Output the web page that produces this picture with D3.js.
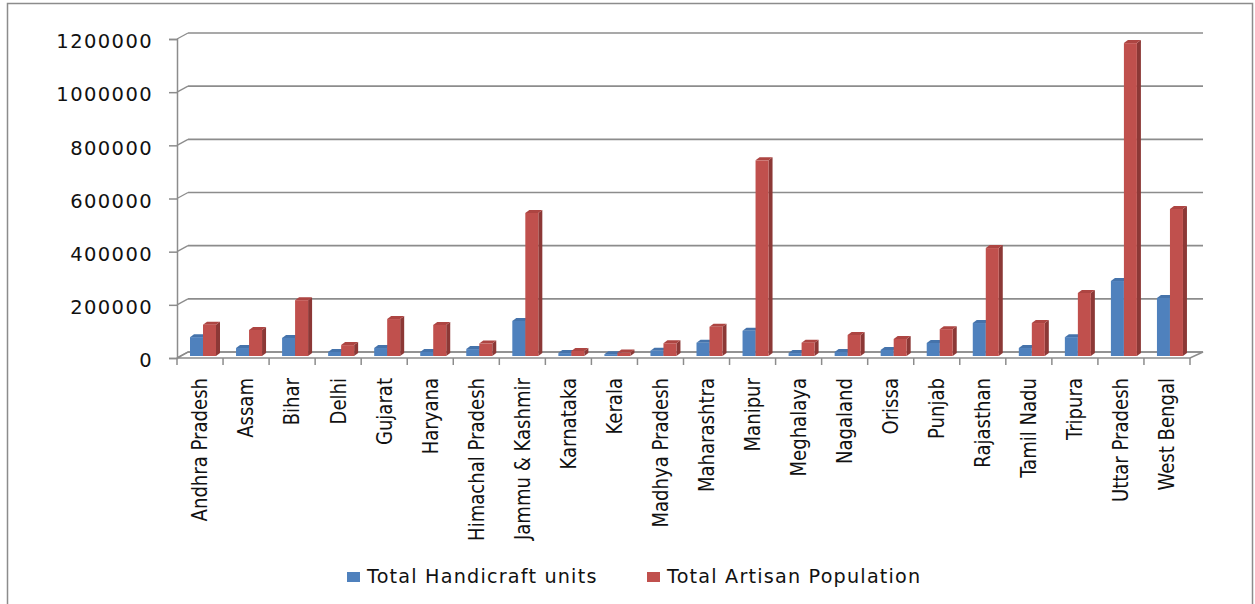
<!DOCTYPE html>
<html>
<head>
<meta charset="utf-8">
<script src="https://cdn.jsdelivr.net/npm/d3@7"></script>
<style>
  body { margin: 0; background: #fff; }
  svg { display: block; }
</style>
</head>
<body>
<svg id="chart" width="1255" height="604"></svg>
<script>
var states = ['Andhra Pradesh', 'Assam', 'Bihar', 'Delhi', 'Gujarat', 'Haryana',
  'Himachal Pradesh', 'Jammu & Kashmir', 'Karnataka', 'Kerala', 'Madhya Pradesh',
  'Maharashtra', 'Manipur', 'Meghalaya', 'Nagaland', 'Orissa', 'Punjab',
  'Rajasthan', 'Tamil Nadu', 'Tripura', 'Uttar Pradesh', 'West Bengal'];

var handicraftUnits = [71000, 30000, 68000, 15000, 30000, 15000, 26000, 132000,
  11000, 7000, 20000, 50000, 95000, 11000, 15000, 23000, 49000, 124000, 30000,
  71000, 282000, 218000];

var artisanPopulation = [118000, 98000, 210000, 41000, 139000, 117000, 47000,
  538000, 19000, 13000, 48000, 110000, 736000, 50000, 79000, 64000, 101000,
  406000, 124000, 237000, 1177000, 553000];

var yTicks = [0, 200000, 400000, 600000, 800000, 1000000, 1200000];
var seriesNames = ['Total Handicraft units', 'Total Artisan Population'];

var colors = {
  front: ['#4f81bd', '#c0504d'],
  side: ['#385d8a', '#8c3836'],
  top: ['#4573ab', '#ad4542']
};

var svg = d3.select('#chart');

// outer frame
svg.append('rect')
  .attr('x', 7.5).attr('y', 3.5)
  .attr('width', 1245).attr('height', 640)
  .attr('fill', 'none').attr('stroke', '#8c8c8c').attr('stroke-width', 1.5);

var left = 177, right = 1190;
var depthX = 11, depthY = -6;

var x = d3.scaleBand().domain(states).range([left, right]);
var yAxisScale = d3.scaleLinear().domain([0, 1200000]).range([358, 39]);
var yBar = d3.scaleLinear().domain([0, 1200000]).range([356, 37]);

// floor
svg.append('path')
  .attr('d', 'M' + left + ',358 L' + right + ',358 L' + (right + depthX + 2) + ',' + (358 + depthY) +
    ' L' + (left + depthX) + ',' + (358 + depthY) + ' Z')
  .attr('fill', 'none').attr('stroke', '#8c8c8c').attr('stroke-width', 1.5);

// back wall gridlines
svg.append('g').selectAll('line')
  .data(yTicks)
  .join('line')
  .attr('x1', left + depthX).attr('x2', right + depthX + 2)
  .attr('y1', function (d) { return yAxisScale(d) + depthY; })
  .attr('y2', function (d) { return yAxisScale(d) + depthY; })
  .attr('stroke', '#8c8c8c').attr('stroke-width', 1.6);

// diagonals from front axis to back wall
svg.append('g').selectAll('line')
  .data(yTicks)
  .join('line')
  .attr('x1', left).attr('x2', left + depthX)
  .attr('y1', function (d) { return yAxisScale(d); })
  .attr('y2', function (d) { return yAxisScale(d) + depthY; })
  .attr('stroke', '#8c8c8c').attr('stroke-width', 1.3);

// y axis
var yAxis = d3.axisLeft(yAxisScale).tickValues(yTicks).tickSize(8).tickPadding(16)
  .tickFormat(d3.format('d'));
var gy = svg.append('g').attr('transform', 'translate(' + left + ',0)').call(yAxis);
gy.select('.domain').attr('stroke', '#8c8c8c').attr('stroke-width', 1.5);
gy.selectAll('.tick line').attr('stroke', '#8c8c8c').attr('stroke-width', 1.5);
gy.selectAll('.tick text')
  .attr('font-family', 'DejaVu Sans, Verdana, sans-serif')
  .attr('font-size', 19.5).attr('letter-spacing', 1.4).attr('fill', '#111')
  .attr('dy', '0.45em');

// x axis
var xAxis = d3.axisBottom(x).tickSize(0).tickFormat('');
var gx = svg.append('g').attr('transform', 'translate(0,358)').call(xAxis);
gx.select('.domain').remove();
var boundaries = states.map(function (s) { return x(s); }).concat([right]);
gx.selectAll('line.bound')
  .data(boundaries)
  .join('line')
  .attr('class', 'bound')
  .attr('x1', function (d) { return d; }).attr('x2', function (d) { return d; })
  .attr('y1', 0).attr('y2', 7)
  .attr('stroke', '#8c8c8c').attr('stroke-width', 1.5);

gx.selectAll('text.cat')
  .data(states)
  .join('text')
  .attr('class', 'cat')
  .attr('transform', function (d) {
    return 'translate(' + (x(d) + x.bandwidth() / 2) + ',20) rotate(-90) scale(0.98,1)';
  })
  .attr('text-anchor', 'end')
  .attr('dy', '0.36em')
  .attr('font-family', 'Liberation Sans Narrow, DejaVu Sans Condensed, sans-serif')
  .attr('font-size', 20.5)
  .attr('fill', '#111')
  .text(function (d) { return d; });

// 3d bars
var barW = 13, sideW = 4, topH = 3;
var rows = [];
states.forEach(function (s, i) {
  rows.push({ state: s, series: 0, value: handicraftUnits[i] });
  rows.push({ state: s, series: 1, value: artisanPopulation[i] });
});

var bars = svg.append('g').selectAll('g')
  .data(rows)
  .join('g');

function barX(d) { return x(d.state) + 13 + d.series * barW; }

bars.append('path')
  .attr('d', function (d) {
    var x1 = barX(d) + barW, t = yBar(d.value), b = yBar(0);
    return 'M' + x1 + ',' + t + ' L' + (x1 + sideW) + ',' + (t - topH) +
      ' L' + (x1 + sideW) + ',' + (b - topH) + ' L' + x1 + ',' + b + ' Z';
  })
  .attr('fill', function (d) { return colors.side[d.series]; });

bars.append('path')
  .attr('d', function (d) {
    var x0 = barX(d), t = yBar(d.value);
    return 'M' + x0 + ',' + t + ' L' + (x0 + sideW) + ',' + (t - topH) +
      ' L' + (x0 + barW + sideW) + ',' + (t - topH) + ' L' + (x0 + barW) + ',' + t + ' Z';
  })
  .attr('fill', function (d) { return colors.top[d.series]; });

bars.append('rect')
  .attr('x', barX)
  .attr('y', function (d) { return yBar(d.value); })
  .attr('width', barW)
  .attr('height', function (d) { return yBar(0) - yBar(d.value); })
  .attr('fill', function (d) { return colors.front[d.series]; });

// legend
var legendX = [347, 647];
var legend = svg.append('g').selectAll('g')
  .data(seriesNames)
  .join('g')
  .attr('transform', function (d, i) { return 'translate(' + legendX[i] + ',571)'; });

legend.append('rect')
  .attr('y', 1)
  .attr('width', 13).attr('height', 10)
  .attr('fill', function (d, i) { return colors.front[i]; });

legend.append('text')
  .attr('x', 20).attr('y', 12)
  .attr('font-family', 'DejaVu Sans, Verdana, sans-serif')
  .attr('font-size', 19.2).attr('letter-spacing', 1.2)
  .attr('fill', '#111')
  .text(function (d) { return d; });
</script>
</body>
</html>
